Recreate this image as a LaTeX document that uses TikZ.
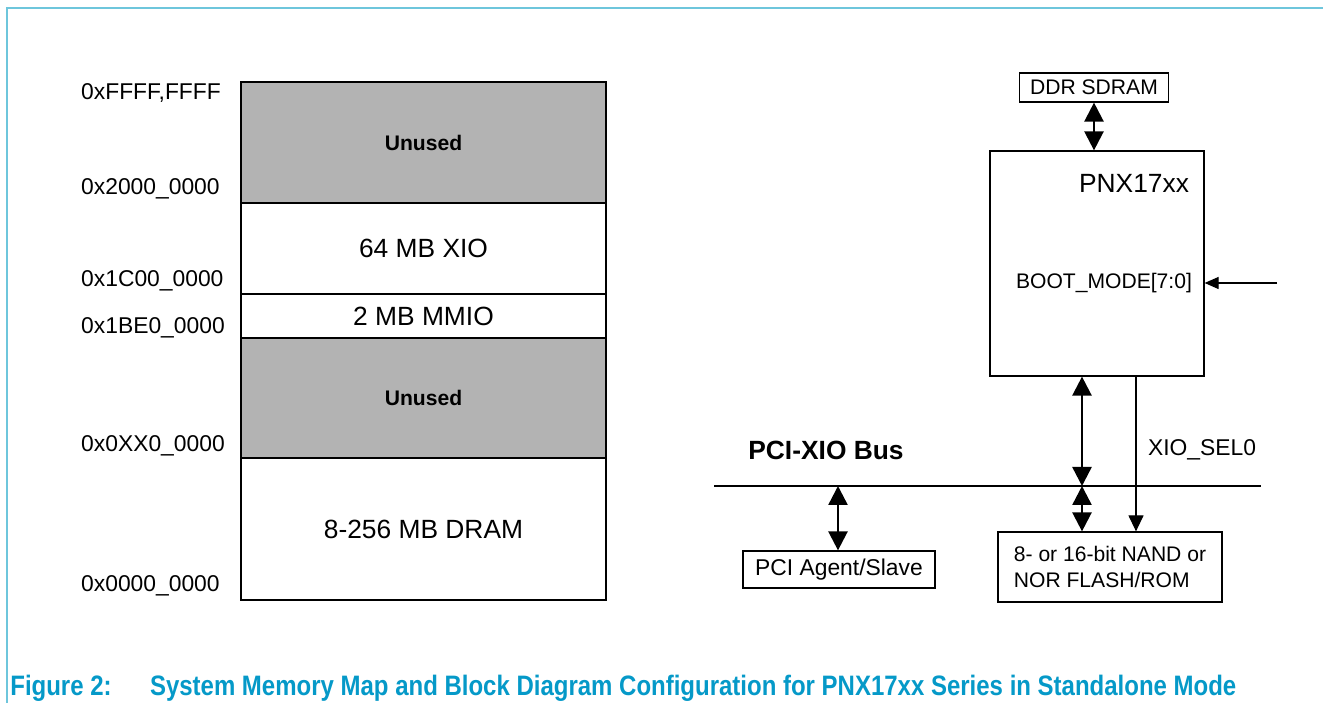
\documentclass[tikz,border=0pt]{standalone}
\usepackage{fontspec}
\setmainfont{Liberation Sans}
\usepackage{graphicx}
\usetikzlibrary{arrows.meta,positioning,calc}
\definecolor{nxpframe}{HTML}{6EC6DC}
\definecolor{nxpcap}{HTML}{0599C8}
\definecolor{unused}{HTML}{B3B3B3}

\begin{document}
\begin{tikzpicture}[x=1cm, y=1cm,
  memrow/.style={draw, line width=0.7pt, minimum width=7.3cm,
    inner sep=0pt, font=\fontsize{15}{18}\selectfont},
  free/.style={memrow, fill=unused, font=\fontsize{12}{14}\selectfont\bfseries},
  addr/.style={anchor=west, font=\fontsize{13}{15}\selectfont},
  blk/.style={draw, line width=0.7pt, inner sep=0pt},
  link/.style={{Triangle[length=3.8mm,width=3.8mm]}-{Triangle[length=3.8mm,width=3.8mm]},
    line width=1.4pt},
  sig/.style={line width=0.7pt}]
\useasboundingbox (0,0) rectangle (26.46,14.06);
% frame
\draw[nxpframe, line width=1pt] (26.46,13.9) -- (0.14,13.9) -- (0.14,0);

% memory map
\node[free, minimum height=2.42cm] (un1) at (8.47,11.21) {Unused};
\node[memrow, minimum height=1.82cm] (xio) at (8.47,9.09) {64 MB XIO};
\node[memrow, minimum height=0.88cm] (mmio) at (8.47,7.74) {2 MB MMIO};
\node[free, minimum height=2.40cm] (un2) at (8.47,6.10) {Unused};
\node[memrow, minimum height=2.84cm] (dram) at (8.47,3.48) {8-256 MB DRAM};
\node[addr] (a1) at (1.5,12.20) {0xFFFF,FFFF};
\node[addr] (a2) at (1.5,10.28) {0x2000\_0000};
\node[addr] (a3) at (1.5,8.44) {0x1C00\_0000};
\node[addr] (a4) at (1.5,7.50) {0x1BE0\_0000};
\node[addr] (a5) at (1.5,5.14) {0x0XX0\_0000};
\node[addr] (a6) at (1.5,2.34) {0x0000\_0000};

% block diagram
\node[blk, minimum width=2.98cm, minimum height=0.58cm,
  font=\fontsize{12}{14}\selectfont] (ddr) at (21.88,12.31) {DDR SDRAM};
\node[blk, minimum width=4.28cm, minimum height=4.5cm] (pnx) at (21.94,8.79) {};
\node[font=\fontsize{15}{18}\selectfont] (pnxname) at (22.68,10.40) {PNX17xx};
\node[font=\fontsize{12}{14}\selectfont] (boot) at (22.08,8.40) {BOOT\_MODE[7:0]};
\coordinate (bootin) at (25.54,8.40);
\node[blk, minimum width=4.48cm, minimum height=1.4cm, align=left,
  font=\fontsize{12}{14.5}\selectfont] (flash) at (22.20,2.72)
  {8- or 16-bit NAND or\\NOR FLASH/ROM};
\node[blk, minimum width=3.84cm, minimum height=0.74cm,
  font=\fontsize{13}{15}\selectfont] (pci) at (16.78,2.67) {PCI Agent/Slave};
\coordinate (busL) at (14.28,4.34);
\coordinate (busR) at (25.22,4.34);
\node[font=\fontsize{15}{18}\selectfont\bfseries] (busname) at (16.52,5.06) {PCI-XIO Bus};
\node[font=\fontsize{13}{15}\selectfont] (selname) at (24.04,5.06) {XIO\_SEL0};

\draw[line width=1.6pt] (busL) -- (busR);
\draw[link] (ddr.south) -- (ddr.south |- pnx.north);
\draw[link] (pnx.south -| 21.64,0) -- (21.64,0 |- busL);
\draw[link] (21.64,0 |- busL) -- (flash.north -| 21.64,0);
\draw[link] (16.76,0 |- busL) -- (pci.north -| 16.76,0);
\draw[sig, -{Triangle[length=3.2mm,width=3mm]}] (pnx.south -| 22.72,0) -- (flash.north -| 22.72,0);
\draw[sig, -{Triangle[length=2.8mm,width=2.4mm]}] (bootin) -- (pnx.east |- bootin);

% caption
\node[anchor=base west, text=nxpcap, inner sep=0pt] (cap) at (0.2,0.14)
  {\resizebox{24.52cm}{\height}{\fontsize{16}{19}\selectfont\bfseries
   Figure 2:\hspace{1.6em}System Memory Map and Block Diagram Configuration for PNX17xx Series in Standalone Mode}};
\end{tikzpicture}
\end{document}
